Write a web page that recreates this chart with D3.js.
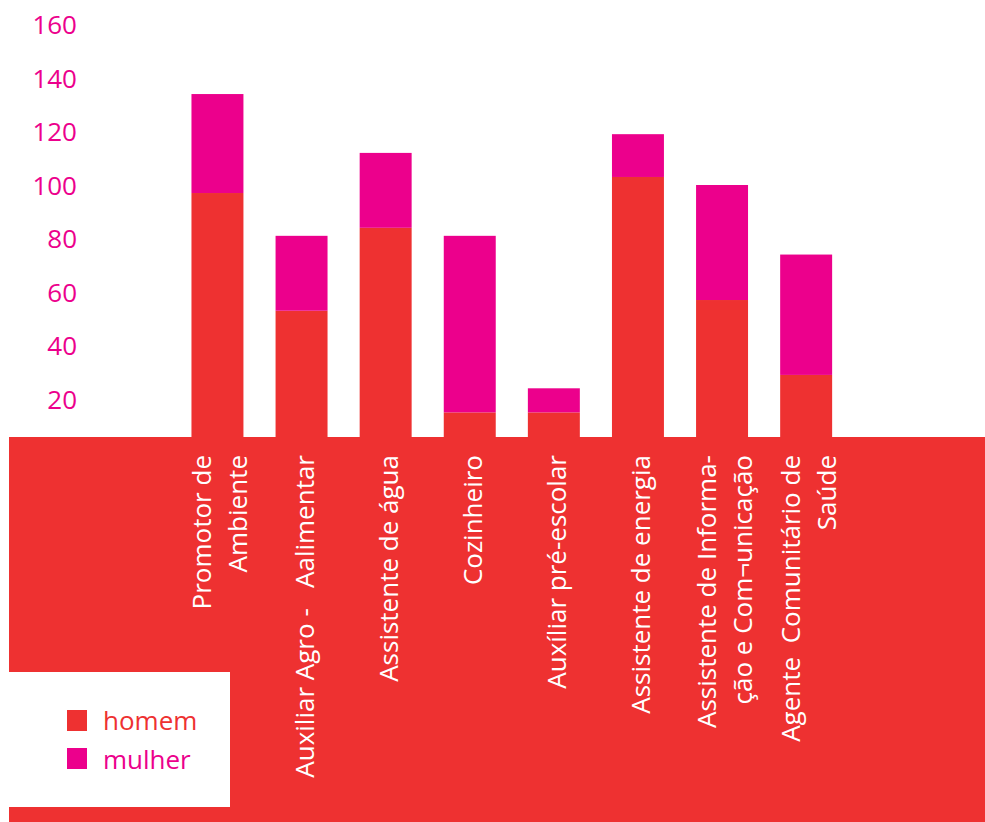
<!DOCTYPE html>
<html>
<head>
<meta charset="utf-8">
<script src="https://cdn.jsdelivr.net/npm/d3@7"></script>
<style>
  html, body { margin: 0; padding: 0; background: #ffffff; }
  svg { display: block; font-family: "Open Sans", "Noto Sans", sans-serif; }
  text { white-space: pre; }
</style>
</head>
<body>
<svg id="chart" width="985" height="822"></svg>
<script>
// ---- data ----
const categories = [
  "Promotor de Ambiente",
  "Auxiliar Agro - Aalimentar",
  "Assistente de água",
  "Cozinheiro",
  "Auxíliar pré-escolar",
  "Assistente de energia",
  "Assistente de Informação e Com¬unicação",
  "Agente Comunitário de Saúde"
];
const labelLines = [
  ["Promotor de", "Ambiente"],
  ["Auxiliar Agro -   Aalimentar"],
  ["Assistente de água"],
  ["Cozinheiro"],
  ["Auxíliar pré-escolar"],
  ["Assistente de energia"],
  ["Assistente de Informa-", "ção e Com¬unicação"],
  ["Agente  Comunitário de", "Saúde"]
];
const homem  = [97, 53, 84, 15, 15, 103, 57, 29];
const mulher = [37, 28, 28, 66,  9,  16, 43, 45];
const seriesNames = ["homem", "mulher"];
const yTicks = [20, 40, 60, 80, 100, 120, 140, 160];

// ---- style / layout ----
const RED = "#EE3131";
const MAGENTA = "#EC008C";
const W = 985, H = 822;
const panelTop = 437;

const svg = d3.select("#chart");

const x = d3.scaleBand()
  .domain(categories)
  .range([175.4, 848.2])
  .paddingInner(0.382)
  .paddingOuter(0.191);

const y = d3.scaleLinear().domain([0, 160]).range([452.5, 24.5]);

const color = d3.scaleOrdinal().domain(seriesNames).range([RED, MAGENTA]);

const rows = categories.map((c, i) => ({ cat: c, homem: homem[i], mulher: mulher[i] }));
const stacked = d3.stack().keys(seriesNames)(rows);

// bars
svg.append("g").selectAll("g")
  .data(stacked).join("g")
  .attr("fill", d => color(d.key))
  .selectAll("rect")
  .data(d => d).join("rect")
  .attr("x", d => x(d.data.cat))
  .attr("width", x.bandwidth())
  .attr("y", d => y(d[1]))
  .attr("height", d => y(d[0]) - y(d[1]));

// red panel
svg.append("rect")
  .attr("x", 9).attr("y", panelTop)
  .attr("width", W - 9).attr("height", H - panelTop)
  .attr("fill", RED);

// y axis labels
const yAxis = d3.axisLeft(y).tickValues(yTicks).tickSize(0).tickPadding(0);
const gy = svg.append("g").attr("transform", "translate(77,0)").call(yAxis);
gy.select(".domain").remove();
gy.selectAll("text")
  .attr("fill", MAGENTA)
  .attr("font-size", 26)
  .attr("font-family", "'Open Sans', 'Noto Sans', sans-serif")
  .attr("dy", "0.36em");

// category labels (rotated)
const lineGap = 36;
const lg = svg.append("g");
categories.forEach((c, i) => {
  const lines = labelLines[i];
  const cx = x(c) + x.bandwidth() / 2;
  const t = lg.append("text")
    .attr("transform", `translate(${cx},455) rotate(-90)`)
    .attr("text-anchor", "end")
    .attr("fill", "#ffffff")
    .attr("font-size", 26);
  lines.forEach((ln, j) => {
    t.append("tspan")
      .attr("x", 0)
      .attr("y", 12 + (j - (lines.length - 1) / 2) * lineGap)
      .text(ln);
  });
});

// legend
const leg = svg.append("g");
leg.append("rect").attr("x", 9).attr("y", 672).attr("width", 221).attr("height", 135).attr("fill", "#ffffff");
seriesNames.forEach((s, i) => {
  leg.append("rect")
    .attr("x", 67).attr("y", 710 + i * 38)
    .attr("width", 20).attr("height", 21)
    .attr("fill", color(s));
  leg.append("text")
    .attr("x", 103).attr("y", 730 + i * 39)
    .attr("fill", color(s))
    .attr("font-size", 26)
    .text(s);
});
</script>
</body>
</html>
